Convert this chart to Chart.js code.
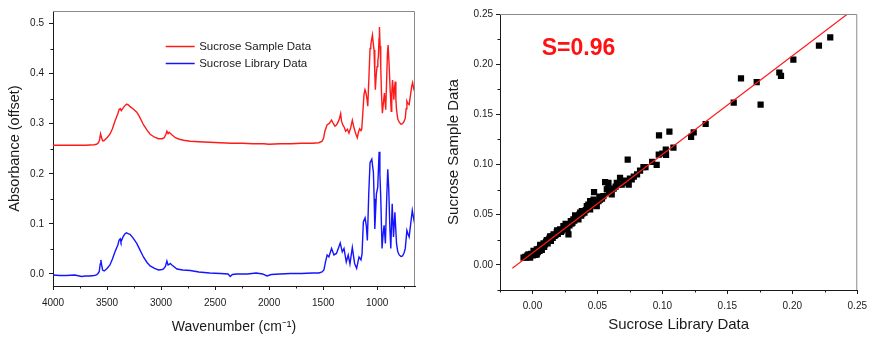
<!DOCTYPE html>
<html><head><meta charset="utf-8">
<script src="https://cdn.jsdelivr.net/npm/chart.js@4/dist/chart.umd.min.js"></script>
<style>
html,body{margin:0;padding:0;background:#fff;}
#wrap{position:relative;width:873px;height:337px;overflow:hidden;background:#fff;}
#c1{position:absolute;left:0;top:0;width:435px;height:337px;}
#c2{position:absolute;left:440px;top:0;width:433px;height:337px;}
</style></head><body>
<div id="wrap"><canvas id="c1" width="435" height="337"></canvas><canvas id="c2" width="433" height="337"></canvas></div>
<script>
// ---------- Left panel: spectra ----------
const seriesNames = ['Sucrose Sample Data', 'Sucrose Library Data'];
const wnSample = [4000,3900,3800,3700,3620,3597,3580,3570,3560,3550,3541,3529,3500,3473,3450,3427,3400,3389,3378,3368,3349,3330,3318,3300,3287,3260,3225,3200,3163,3130,3101,3060,3024,2990,2970,2955,2946,2935,2925,2915,2895,2868,2830,2792,2730,2650,2550,2450,2350,2250,2150,2050,2000,1900,1800,1700,1600,1540,1510,1495,1484,1463,1445,1422,1405,1391,1375,1360,1350,1338,1330,1317,1305,1292,1275,1261,1245,1230,1218,1205,1195,1184,1172,1162,1150,1143,1135,1122,1113,1106,1095,1087,1075,1066,1059,1050,1044,1036,1029,1022,1017,1008,1001,994,989,983,979,973,967,960,952,943,933,927,921,912,905,899,890,880,870,865,858,851,846,840,833,827,821,810,796,780,765,750,740,732,725,715,704,690,680,672,662,650];
const absSample = [0.257,0.257,0.257,0.257,0.258,0.259,0.262,0.267,0.280,0.272,0.266,0.266,0.272,0.279,0.290,0.305,0.320,0.328,0.330,0.326,0.332,0.337,0.339,0.337,0.334,0.330,0.323,0.314,0.298,0.287,0.279,0.273,0.270,0.270,0.272,0.279,0.285,0.280,0.283,0.281,0.277,0.272,0.269,0.267,0.265,0.264,0.263,0.262,0.261,0.261,0.260,0.260,0.259,0.260,0.260,0.261,0.261,0.262,0.265,0.272,0.285,0.298,0.300,0.307,0.300,0.295,0.298,0.304,0.310,0.320,0.305,0.297,0.293,0.285,0.289,0.281,0.292,0.307,0.295,0.285,0.278,0.272,0.284,0.290,0.286,0.289,0.315,0.358,0.368,0.364,0.350,0.335,0.400,0.450,0.457,0.470,0.477,0.460,0.447,0.400,0.368,0.400,0.414,0.425,0.434,0.470,0.493,0.455,0.414,0.360,0.321,0.340,0.361,0.345,0.328,0.390,0.440,0.457,0.420,0.368,0.325,0.360,0.387,0.365,0.348,0.370,0.384,0.350,0.328,0.310,0.303,0.299,0.300,0.305,0.311,0.330,0.345,0.340,0.338,0.360,0.375,0.382,0.370,0.361];
const wnLibrary = [4000,3940,3876,3798,3736,3700,3659,3620,3597,3580,3572,3563,3557,3550,3541,3526,3500,3473,3450,3427,3400,3389,3378,3371,3352,3335,3321,3300,3287,3260,3225,3200,3163,3130,3101,3060,3024,2990,2977,2960,2946,2935,2925,2915,2900,2853,2800,2730,2650,2550,2450,2380,2360,2340,2300,2200,2120,2060,2020,1980,1900,1800,1700,1600,1540,1510,1493,1478,1463,1447,1422,1400,1377,1360,1342,1323,1307,1286,1268,1252,1230,1209,1190,1168,1150,1140,1128,1112,1100,1091,1078,1066,1050,1035,1028,1022,1007,995,982,975,967,955,945,936,924,912,902,893,883,874,861,849,836,821,810,796,780,765,750,740,725,715,704,690,675,662,650];
const absLibrary = [-0.002,-0.003,-0.003,-0.002,-0.005,-0.004,-0.004,-0.003,-0.002,0.002,0.005,0.020,0.028,0.018,0.008,0.006,0.011,0.018,0.030,0.044,0.058,0.067,0.070,0.064,0.074,0.080,0.082,0.080,0.079,0.072,0.061,0.050,0.034,0.023,0.016,0.011,0.008,0.009,0.010,0.015,0.026,0.018,0.019,0.021,0.018,0.010,0.008,0.007,0.004,0.002,0.001,0.000,-0.005,-0.001,0.000,0.000,0.002,0.000,-0.004,-0.001,0.000,0.001,0.001,0.002,0.002,0.004,0.008,0.024,0.038,0.034,0.051,0.038,0.041,0.051,0.062,0.044,0.051,0.024,0.038,0.020,0.053,0.021,0.011,0.034,0.028,0.040,0.104,0.112,0.095,0.067,0.160,0.222,0.229,0.203,0.150,0.090,0.160,0.173,0.244,0.200,0.153,0.051,0.080,0.097,0.061,0.150,0.209,0.170,0.094,0.051,0.140,0.074,0.123,0.061,0.045,0.038,0.035,0.036,0.043,0.051,0.087,0.080,0.074,0.100,0.127,0.110,0.097];
const leftXTicks = [4000,3500,3000,2500,2000,1500,1000];
const leftXMinor = [3750,3250,2750,2250,1750,1250,750];
const leftYTicks = [0,0.1,0.2,0.3,0.4,0.5];
const leftYMinor = [0.05,0.15,0.25,0.35,0.45];

// ---------- Right panel: correlation ----------
const libraryX = [-0.0069,-0.0055,-0.0049,-0.0040,-0.0031,-0.0025,-0.0018,-0.0010,-0.0005,0.0002,0.0008,0.0015,0.0022,0.0028,0.0033,0.0033,0.0041,0.0048,0.0055,0.0059,0.0066,0.0072,0.0078,0.0085,0.0090,0.0097,0.0104,0.0110,0.0117,0.0123,0.0130,0.0136,0.0142,0.0150,0.0156,0.0162,0.0170,0.0178,0.0187,0.0195,0.0204,0.0213,0.0220,0.0229,0.0238,0.0245,0.0252,0.0264,0.0270,0.0277,0.0285,0.0295,0.0300,0.0308,0.0315,0.0322,0.0328,0.0335,0.0345,0.0354,0.0360,0.0367,0.0375,0.0384,0.0392,0.0400,0.0410,0.0418,0.0425,0.0435,0.0444,0.0444,0.0455,0.0462,0.0474,0.0480,0.0495,0.0500,0.0508,0.0520,0.0535,0.0546,0.0559,0.0572,0.0585,0.0590,0.0600,0.0610,0.0625,0.0640,0.0649,0.0660,0.0674,0.0687,0.0700,0.0715,0.0733,0.0741,0.0750,0.0764,0.0780,0.0805,0.0828,0.0854,0.0870,0.0921,0.0956,0.0972,0.0974,0.1000,0.1026,0.1028,0.1054,0.1085,0.1221,0.1241,0.1333,0.1549,0.1605,0.1726,0.1756,0.1900,0.1913,0.2008,0.2205,0.2292,0.0060,0.0135,0.0190,0.0255,0.0330,0.0380,0.0430,0.0470,0.0515,0.0580];
const sampleY = [0.0073,0.0080,0.0073,0.0092,0.0106,0.0088,0.0073,0.0110,0.0106,0.0095,0.0139,0.0120,0.0100,0.0135,0.0156,0.0106,0.0128,0.0160,0.0140,0.0189,0.0170,0.0149,0.0195,0.0215,0.0180,0.0205,0.0230,0.0248,0.0215,0.0250,0.0262,0.0272,0.0240,0.0285,0.0270,0.0305,0.0290,0.0300,0.0328,0.0310,0.0340,0.0354,0.0330,0.0345,0.0387,0.0360,0.0372,0.0381,0.0360,0.0305,0.0395,0.0437,0.0410,0.0420,0.0454,0.0440,0.0493,0.0460,0.0470,0.0454,0.0500,0.0520,0.0490,0.0510,0.0536,0.0520,0.0545,0.0586,0.0560,0.0575,0.0636,0.0553,0.0600,0.0620,0.0725,0.0590,0.0586,0.0640,0.0636,0.0650,0.0660,0.0685,0.0824,0.0752,0.0818,0.0720,0.0740,0.0702,0.0760,0.0780,0.0818,0.0800,0.0868,0.0801,0.0820,0.0840,0.1050,0.0801,0.0860,0.0851,0.0880,0.0901,0.0940,0.0974,0.0975,0.1026,0.0997,0.1099,0.1291,0.1110,0.1149,0.1096,0.1328,0.1169,0.1275,0.1321,0.1404,0.1616,0.1858,0.1821,0.1596,0.1917,0.1884,0.2046,0.2185,0.2268,0.0200,0.0285,0.0345,0.0410,0.0480,0.0535,0.0600,0.0650,0.0680,0.0760];
const fitX = [-0.0155, 0.2425];
const fitY = [-0.0033, 0.2500];
const similarityLabel = 'S=0.96';
const rightTicks = [0,0.05,0.10,0.15,0.20,0.25];
const rightMinor = [-0.025,0.025,0.075,0.125,0.175,0.225];

const FONT = "'Liberation Sans', Arial, Helvetica, sans-serif";
const INK = '#1a1a1a';

const decor = {
  id: 'decor',
  afterDraw(chart, args, o) {
    const {ctx, chartArea: a} = chart;
    const xs = chart.scales.x, ys = chart.scales.y;
    ctx.save();
    ctx.lineWidth = 1;
    ctx.strokeStyle = o.frameColor;
    ctx.beginPath();
    ctx.moveTo(a.left, a.top + 0.5);
    ctx.lineTo(a.right - 0.5, a.top + 0.5);
    ctx.lineTo(a.right - 0.5, a.bottom);
    ctx.stroke();
    ctx.strokeStyle = INK;
    ctx.beginPath();
    o.xMinor.forEach(v => { const p = Math.round(xs.getPixelForValue(v)) + 0.5; ctx.moveTo(p, a.bottom); ctx.lineTo(p, a.bottom + o.minorLen); });
    o.yMinor.forEach(v => { const p = Math.round(ys.getPixelForValue(v)) + 0.5; ctx.moveTo(a.left, p); ctx.lineTo(a.left - o.minorLen, p); });
    ctx.stroke();
    if (o.legend) {
      const L = o.legend;
      ctx.font = L.size + 'px ' + FONT;
      ctx.textBaseline = 'middle';
      ctx.textAlign = 'left';
      chart.data.datasets.forEach((ds, i) => {
        const y = Math.round(a.top + L.y + i * L.dy) + 0.5;
        const x0 = a.left + L.x;
        ctx.strokeStyle = ds.borderColor;
        ctx.lineWidth = 1.5;
        ctx.beginPath(); ctx.moveTo(x0, y); ctx.lineTo(x0 + L.len, y); ctx.stroke();
        ctx.fillStyle = INK;
        ctx.fillText(ds.label, x0 + L.len + L.gap, y);
      });
    }
    if (o.note) {
      ctx.font = 'bold ' + o.note.size + 'px ' + FONT;
      ctx.fillStyle = o.note.color;
      ctx.textBaseline = 'middle';
      ctx.textAlign = 'left';
      ctx.fillText(o.note.text, a.left + o.note.x, a.top + o.note.y);
    }
    ctx.restore();
  }
};

function axisBase(extra) {
  return Object.assign({
    type: 'linear',
    grid: { drawOnChartArea: false, drawTicks: true, tickLength: 4, color: INK, tickColor: INK, lineWidth: 1 },
    border: { display: true, color: INK, width: 1 },
  }, extra);
}

// Left chart
new Chart(document.getElementById('c1'), {
  type: 'line',
  data: {
    datasets: [
      { label: seriesNames[0], data: wnSample.map((w, i) => ({x: w, y: absSample[i]})), borderColor: '#ff1a1a', borderWidth: 1.4, pointRadius: 0, tension: 0, fill: false },
      { label: seriesNames[1], data: wnLibrary.map((w, i) => ({x: w, y: absLibrary[i]})), borderColor: '#1414ff', borderWidth: 1.4, pointRadius: 0, tension: 0, fill: false },
    ]
  },
  options: {
    responsive: false, animation: false, devicePixelRatio: 1,
    layout: { padding: { left: 0, top: 9, right: 20, bottom: 0 } },
    plugins: {
      legend: { display: false }, tooltip: { enabled: false },
      decor: { frameColor: '#8a8a8a', xMinor: leftXMinor, yMinor: leftYMinor, minorLen: 2.5,
               legend: { x: 112.7, y: 35.3, dy: 16.7, len: 29, gap: 4.5, size: 11.5 } }
    },
    scales: {
      x: axisBase({
        min: 650, max: 4000, reverse: true,
        afterBuildTicks: s => { s.ticks = leftXTicks.map(v => ({value: v})); },
        afterFit: s => { s.height = 51; },
        ticks: { padding: 7, color: INK, font: { family: FONT, size: 10 }, maxRotation: 0, callback: v => String(v) },
        title: { display: true, text: 'Wavenumber (cm⁻¹)', color: INK, font: { family: FONT, size: 14, lineHeight: 1 }, padding: { top: 0, bottom: 3 } }
      }),
      y: axisBase({
        min: -0.024, max: 0.525,
        afterBuildTicks: s => { s.ticks = leftYTicks.map(v => ({value: v})); },
        afterFit: s => { s.width = 53; },
        ticks: { padding: 5, color: INK, font: { family: FONT, size: 10 }, callback: v => Number(v).toFixed(1) },
        title: { display: true, text: 'Absorbance (offset)', color: INK, font: { family: FONT, size: 14.5, lineHeight: 1 }, padding: { top: 8.2, bottom: 0 } }
      })
    }
  },
  plugins: [decor]
});

// Right chart
new Chart(document.getElementById('c2'), {
  type: 'scatter',
  data: {
    datasets: [
      { label: 'fit', data: fitX.map((x, i) => ({x, y: fitY[i]})), showLine: true, borderColor: '#ff1a1a', borderWidth: 1.2, pointRadius: 0, tension: 0 },
      { label: 'points', data: libraryX.map((x, i) => ({x, y: sampleY[i]})), pointStyle: 'rect', pointRadius: 4.4, backgroundColor: '#000', borderColor: '#000', borderWidth: 0 },
    ]
  },
  options: {
    responsive: false, animation: false, devicePixelRatio: 1,
    layout: { padding: { left: 0, top: 14, right: 15, bottom: 0 } },
    plugins: {
      legend: { display: false }, tooltip: { enabled: false },
      decor: { frameColor: '#8a8a8a', xMinor: rightMinor, yMinor: rightMinor, minorLen: 2.5,
               note: { text: similarityLabel, x: 41.7, y: 35, size: 23, color: '#ff1111' } }
    },
    scales: {
      x: axisBase({
        min: -0.025, max: 0.25,
        afterBuildTicks: s => { s.ticks = rightTicks.map(v => ({value: v})); },
        afterFit: s => { s.height = 47; },
        ticks: { padding: 6, color: INK, font: { family: FONT, size: 10 }, maxRotation: 0, callback: v => Number(v).toFixed(2) },
        title: { display: true, text: 'Sucrose Library Data', color: INK, font: { family: FONT, size: 15, lineHeight: 1 }, padding: { top: 0, bottom: 4.5 } }
      }),
      y: axisBase({
        min: -0.025, max: 0.25,
        afterBuildTicks: s => { s.ticks = rightTicks.map(v => ({value: v})); },
        afterFit: s => { s.width = 60; },
        ticks: { padding: 3, color: INK, font: { family: FONT, size: 10 }, callback: v => Number(v).toFixed(2) },
        title: { display: true, text: 'Sucrose Sample Data', color: INK, font: { family: FONT, size: 15, lineHeight: 1 }, padding: { top: 6.5, bottom: 0 } }
      })
    }
  },
  plugins: [decor]
});
</script>
</body></html>
